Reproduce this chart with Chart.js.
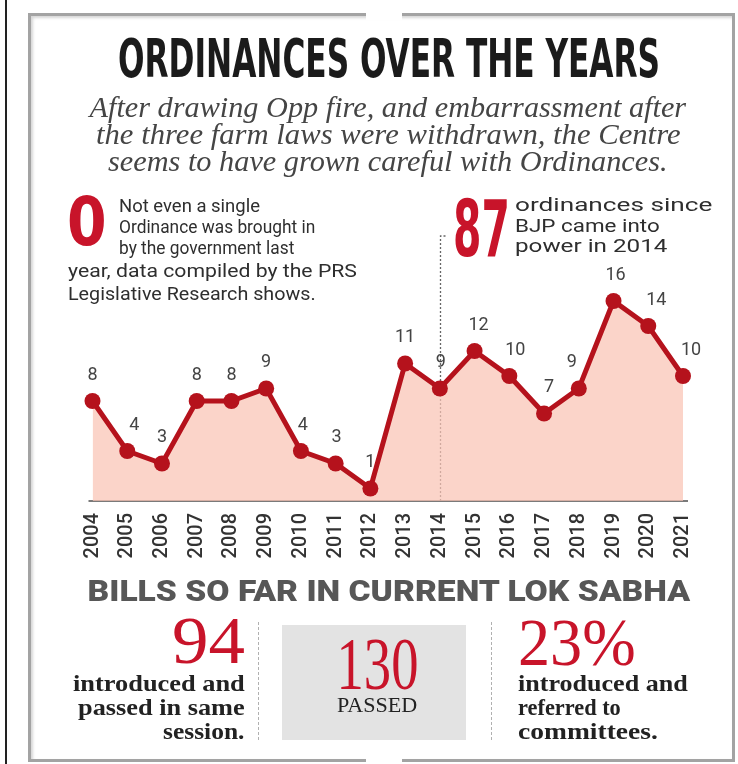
<!DOCTYPE html>
<html><head><meta charset="utf-8">
<script src="https://cdn.jsdelivr.net/npm/chart.js@4.4.1/dist/chart.umd.min.js"></script>
<style>
html,body{margin:0;padding:0;background:#fff;}
#wrap{position:relative;width:738px;height:764px;overflow:hidden;background:#fff;}
.t{position:absolute;white-space:nowrap;line-height:1;left:0;top:0;}
#c{position:absolute;left:0;top:0;}
.cond{font-family:'Liberation Sans Narrow','DejaVu Sans Condensed','Roboto',sans-serif;font-weight:bold;}
.sub{font-family:'Liberation Serif','DejaVu Serif',serif;font-style:italic;color:#454545;font-size:29px;}
.ann{font-family:'Roboto','Liberation Sans',sans-serif;color:#2e2e2e;font-size:19px;}
.red{color:#c8142a;}
.ser{font-family:'Liberation Serif','DejaVu Serif',serif;}
.sbold{font-family:'Liberation Serif','DejaVu Serif',serif;font-weight:bold;color:#222;font-size:23px;}
</style></head>
<body><div id="wrap">
<div style="position:absolute;left:5px;top:0;width:2px;height:764px;background:#222"></div>
<div style="position:absolute;left:28px;top:13px;width:701px;height:743px;border:3px solid #a3a3a3;box-shadow:inset 2px 2px 3px #d6d6d6"></div>
<div style="position:absolute;left:366px;top:10px;width:36px;height:10px;background:#fff"></div>
<div style="position:absolute;left:366px;top:754px;width:36px;height:10px;background:#fff"></div>
<canvas id="c" width="738" height="764"></canvas>

<div class="t cond" data-x="118" data-y="59" data-w="542" data-a="l" style="font-size:54px;color:#1b1b1b">ORDINANCES OVER THE YEARS</div>
<div class="t sub" data-x="388" data-y="107" data-w="597" data-a="c">After drawing Opp fire, and embarrassment after</div>
<div class="t sub" data-x="388" data-y="134" data-w="585" data-a="c">the three farm laws were withdrawn, the Centre</div>
<div class="t sub" data-x="388" data-y="161" data-w="560" data-a="c">seems to have grown careful with Ordinances.</div>

<div class="t cond red" data-x="67" data-y="222" data-w="40" data-a="l" style="font-size:68px">0</div>
<div class="t ann" data-x="119" data-y="205" data-w="141" data-a="l">Not even a single</div>
<div class="t ann" data-x="119" data-y="226" data-w="196" data-a="l">Ordinance was brought in</div>
<div class="t ann" data-x="119" data-y="247" data-w="175" data-a="l">by the government last</div>
<div class="t ann" data-x="68" data-y="270" data-w="289" data-a="l">year, data compiled by the PRS</div>
<div class="t ann" data-x="68" data-y="293" data-w="248" data-a="l">Legislative Research shows.</div>

<div class="t cond red" data-x="453" data-y="229" data-w="57" data-a="l" style="font-size:78px">87</div>
<div class="t ann" data-x="515" data-y="204" data-w="197" data-a="l">ordinances since</div>
<div class="t ann" data-x="515" data-y="225" data-w="145" data-a="l">BJP came into</div>
<div class="t ann" data-x="515" data-y="245" data-w="153" data-a="l">power in 2014</div>

<div class="t" data-x="389" data-y="591" data-w="603" data-a="c" style="font-family:'Roboto','Liberation Sans',sans-serif;font-weight:900;font-size:29px;color:#575757">BILLS SO FAR IN CURRENT LOK SABHA</div>

<div style="position:absolute;left:258px;top:622px;height:118px;border-left:1.5px dashed #b0b0b0"></div>
<div style="position:absolute;left:491px;top:622px;height:118px;border-left:1.5px dashed #b0b0b0"></div>
<div style="position:absolute;left:282px;top:625px;width:184px;height:115px;background:#e3e3e3"></div>

<div class="t ser red" data-x="245" data-y="640" data-w="73" data-a="r" style="font-size:68px">94</div>
<div class="t sbold" data-x="245" data-y="683" data-w="172" data-a="r">introduced and</div>
<div class="t sbold" data-x="245" data-y="707" data-w="167" data-a="r">passed in same</div>
<div class="t sbold" data-x="245" data-y="731" data-w="82" data-a="r">session.</div>

<div class="t ser red" data-x="377" data-y="664" data-w="82" data-a="c" style="font-size:74px">130</div>
<div class="t ser" data-x="377" data-y="705" data-w="80" data-a="c" style="font-size:21px;color:#222">PASSED</div>

<div class="t ser red" data-x="518" data-y="642" data-w="118" data-a="l" style="font-size:68px">23%</div>
<div class="t sbold" data-x="518" data-y="683" data-w="170" data-a="l">introduced and</div>
<div class="t sbold" data-x="518" data-y="707" data-w="103" data-a="l">referred to</div>
<div class="t sbold" data-x="518" data-y="731" data-w="140" data-a="l">committees.</div>
</div>
<script>
const years = ['2004','2005','2006','2007','2008','2009','2010','2011','2012','2013','2014','2015','2016','2017','2018','2019','2020','2021'];
const ordinances = [8,4,3,8,8,9,4,3,1,11,9,12,10,7,9,16,14,10];
const markerYear = '2014';

function fitTexts(){
  document.querySelectorAll('.t').forEach(el=>{
    const W = el.offsetWidth, H = el.offsetHeight;
    const w = +el.dataset.w, x = +el.dataset.x, y = +el.dataset.y, a = el.dataset.a;
    const s = w / W;
    let left = x, origin = 'left';
    if (a === 'c') { left = x - W/2; origin = 'center'; }
    if (a === 'r') { left = x - W; origin = 'right'; }
    el.style.left = left + 'px';
    el.style.top = (y - H/2) + 'px';
    el.style.transformOrigin = origin + ' center';
    el.style.transform = 'scaleX(' + s + ')';
  });
}

const RED = '#b5121c';
const labelShift = [0,7,0,0,0,0,2,1,0,0,1,4,6,5,-7,2,8,8];

const plugins = [{
  id:'deco',
  beforeDatasetsDraw(chart){
    const {ctx, chartArea:a} = chart;
    ctx.save();
    ctx.strokeStyle = '#7a7a7a'; ctx.lineWidth = 2;
    ctx.beginPath(); ctx.moveTo(a.left-4, a.bottom); ctx.lineTo(a.right+5, a.bottom); ctx.stroke();
    const x = Math.round(chart.scales.x.getPixelForValue(years.indexOf(markerYear))) + 0.5;
    ctx.strokeStyle = '#666'; ctx.lineWidth = 1.3; ctx.setLineDash([2,2]);
    ctx.beginPath(); ctx.moveTo(x, a.bottom); ctx.lineTo(x, 236); ctx.lineTo(x+6, 236); ctx.stroke();
    ctx.restore();
  },
  afterDatasetsDraw(chart){
    const {ctx} = chart;
    const meta = chart.getDatasetMeta(0);
    ctx.save();
    ctx.font = '18px Roboto, sans-serif';
    ctx.fillStyle = '#444'; ctx.textAlign = 'center'; ctx.textBaseline = 'middle';
    meta.data.forEach((p,i)=>{
      ctx.fillText(String(chart.data.datasets[0].data[i]), p.x + labelShift[i], p.y - 26);
    });
    ctx.restore();
  }
}];

document.fonts.ready.then(()=>{
  fitTexts();
  new Chart(document.getElementById('c'), {
    type:'line',
    data:{labels:years, datasets:[{
      data:ordinances, borderColor:RED, borderWidth:5, backgroundColor:'rgba(250,196,180,0.72)',
      fill:'origin', tension:0, pointRadius:8, pointBackgroundColor:RED, pointBorderWidth:0,
      clip:false
    }]},
    options:{
      responsive:false, animation:false, devicePixelRatio:1,
      layout:{padding:{left:92.5, right:55, top:251, bottom:203}},
      plugins:{legend:{display:false}, tooltip:{enabled:false}},
      scales:{
        x:{grid:{display:false}, border:{display:false},
           ticks:{autoSkip:false, minRotation:90, maxRotation:90, padding:4, color:'#333',
                  font:{family:'Roboto', size:20, weight:'500'}},
           afterFit(s){ s.height = 60; s.paddingLeft = 0; s.paddingRight = 0; }},
        y:{display:false, min:0, max:20}
      }
    },
    plugins
  });
});
</script>
</body></html>
